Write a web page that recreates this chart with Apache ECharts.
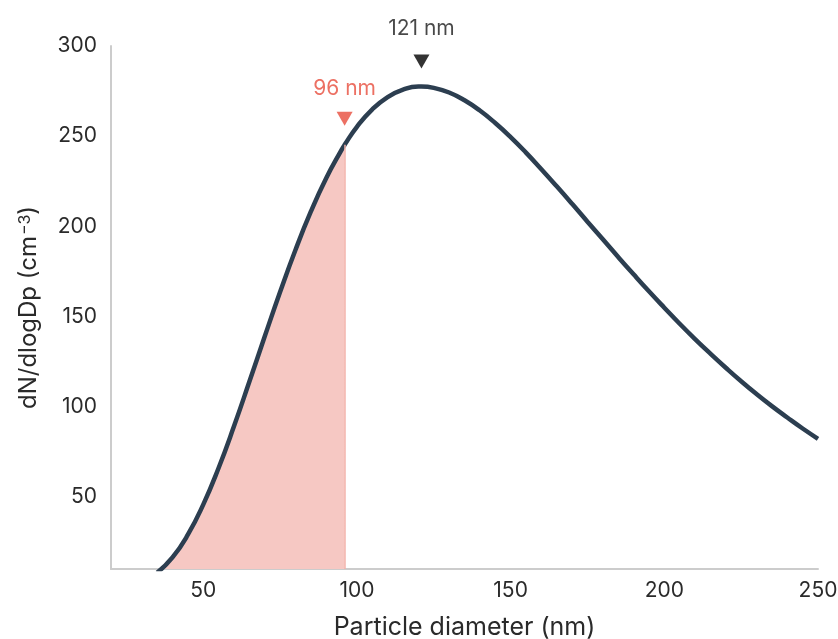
<!DOCTYPE html>
<html>
<head>
<meta charset="utf-8">
<title>Particle size distribution</title>
<script src="https://cdn.jsdelivr.net/npm/echarts@6/dist/echarts.min.js"></script>
<style>
    html, body { margin: 0; padding: 0; background: #fff; }
    #main { width: 838px; height: 639px; }
</style>
</head>
<body>
<div id="main"></div>
<script>
// particle diameter (nm) and dN/dlogDp
var diameters = [35, 40, 45, 50, 55, 60, 65, 70, 75, 80, 85, 90, 95, 96, 100, 105, 110, 115, 120, 121,
    125, 130, 135, 140, 145, 150, 155, 160, 165, 170, 175, 180, 185, 190, 195, 200,
    205, 210, 215, 220, 225, 230, 235, 240, 245, 250];
var counts = [7.9, 16.4, 29.0, 45.7, 66.0, 89.1, 113.8, 138.9, 163.6, 186.9, 208.1, 226.7, 242.4, 245.2, 255.2, 264.9, 271.7, 275.8, 277.5, 277.5,
    276.8, 274.2, 269.9, 264.2, 257.3, 249.5, 240.9, 231.7, 222.2, 212.5, 202.6, 192.8, 183.0, 173.4, 164.0, 154.9,
    146.0, 137.5, 129.4, 121.6, 114.1, 107.0, 100.3, 94.0, 87.9, 82.2];
var shadeEnd = 96;     // shaded region ends here
var modeDiameter = 121;
var xTicks = [50, 100, 150, 200, 250];
var yTicks = [50, 100, 150, 200, 250, 300];

var curve = diameters.map(function (d, i) { return [d, counts[i]]; });
var shaded = curve.filter(function (p) { return p[0] <= shadeEnd; });
function valueAt(d) {
    for (var i = 0; i < curve.length; i++) {
        if (curve[i][0] === d) return curve[i][1];
    }
    return null;
}

var font = 'Inter, "Noto Sans", sans-serif';
var textColor = '#2a2a2a';
var myChart = echarts.init(document.getElementById('main'));
var option = {
    animation: false,
    textStyle: { fontFamily: font },
    grid: { left: 111, right: 20, top: 46, bottom: 70, outerBoundsMode: 'none', containLabel: false },
    xAxis: {
        type: 'value',
        min: 20,
        max: 250,
        name: 'Particle diameter (nm)',
        nameLocation: 'middle',
        nameGap: 46,
        nameTextStyle: { fontSize: 25, color: textColor },
        axisLine: { lineStyle: { color: '#cccccc', width: 2 } },
        axisTick: { show: false },
        splitLine: { show: false },
        axisLabel: { customValues: xTicks, fontSize: 21, color: textColor, margin: 11 }
    },
    yAxis: {
        type: 'value',
        min: 10,
        max: 300,
        name: '{a|dN/dlogDp (cm}{s|−3}{a|)}',
        nameLocation: 'middle',
        nameGap: 70,
        nameTextStyle: {
            rich: {
                a: { fontSize: 24, color: textColor, fontFamily: font },
                s: { fontSize: 16, color: textColor, fontFamily: font, verticalAlign: 'top', padding: [0, 0, 0, 1] }
            }
        },
        axisLine: { show: true, lineStyle: { color: '#cccccc', width: 2 } },
        axisTick: { show: false },
        splitLine: { show: false },
        axisLabel: { customValues: yTicks, fontSize: 21, color: textColor, margin: 14 }
    },
    series: [
        {
            // shaded part under the curve
            type: 'line',
            data: shaded,
            showSymbol: false,
            smooth: true,
            lineStyle: { width: 0 },
            areaStyle: { color: '#f6c8c3', opacity: 1, origin: 'start' },
            markLine: {
                silent: true,
                symbol: 'none',
                label: { show: false },
                lineStyle: { color: '#f3b3ab', width: 1.5, type: 'solid' },
                data: [[{ coord: [shadeEnd, 10] }, { coord: [shadeEnd, valueAt(shadeEnd)] }]]
            },
            z: 1
        },
        {
            type: 'line',
            data: curve,
            showSymbol: false,
            smooth: true,
            lineStyle: { color: '#2c3e50', width: 4.5 },
            z: 3
        },
        {
            type: 'scatter',
            data: [[shadeEnd, valueAt(shadeEnd)]],
            symbol: 'triangle',
            symbolRotate: 180,
            symbolSize: [16, 14],
            symbolOffset: [0, -26],
            itemStyle: { color: '#e74c3c' },
            label: {
                show: true,
                position: 'top',
                distance: 13,
                formatter: shadeEnd + ' nm',
                fontSize: 21,
                color: '#e74c3c'
            },
            z: 4
        },
        {
            type: 'scatter',
            data: [[modeDiameter, valueAt(modeDiameter)]],
            symbol: 'triangle',
            symbolRotate: 180,
            symbolSize: [16, 14],
            symbolOffset: [0, -25],
            itemStyle: { color: '#000000' },
            label: {
                show: true,
                position: 'top',
                distance: 15,
                formatter: modeDiameter + ' nm',
                fontSize: 21,
                color: '#1a1a1a'
            },
            z: 4
        }
    ]
};
myChart.setOption(option);
</script>
</body>
</html>
